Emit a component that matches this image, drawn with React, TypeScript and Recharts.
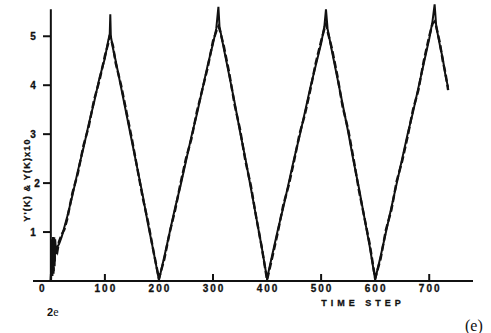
import React from "react";
import { LineChart, Line, XAxis, YAxis, ReferenceLine } from "recharts";

// time steps (denser near the noisy start and the peaks)
const timeSteps = [
  0, 2, 3, 4, 5, 6, 7, 8, 10, 12, 15, 20, 25, 30, 40, 50, 60, 70, 80, 90, 100,
  106, 109, 110, 111, 115, 120, 130, 140, 150, 160, 170, 180, 190, 200, 210,
  220, 230, 240, 250, 260, 270, 280, 290, 300, 306, 310, 312, 320, 330, 340,
  350, 360, 370, 380, 390, 400, 410, 420, 430, 440, 450, 460, 470, 480, 490,
  500, 506, 509, 512, 520, 530, 540, 550, 560, 570, 580, 590, 600, 610, 620,
  630, 640, 650, 660, 670, 680, 690, 700, 706, 710, 713, 720, 725, 730, 735,
];

// Y'(K)
const yPrime = [
  0, 0.85, 0.1, 0.9, 0.15, 0.8, 0.3, 0.85, 0.55, 0.7, 0.75, 0.9, 1.1, 1.3,
  1.75, 2.25, 2.7, 3.2, 3.65, 4.15, 4.55, 4.9, 5.05, 5.45, 5.0, 4.75, 4.5,
  3.95, 3.4, 2.85, 2.3, 1.75, 1.15, 0.6, 0.02, 0.5, 1.0, 1.5, 1.95, 2.45, 2.95,
  3.4, 3.9, 4.4, 4.85, 5.15, 5.6, 5.2, 4.75, 4.2, 3.65, 3.05, 2.5, 1.9, 1.3,
  0.7, 0.05, 0.55, 1.05, 1.5, 2.0, 2.5, 2.95, 3.45, 3.95, 4.4, 4.85, 5.2, 5.55,
  5.15, 4.7, 4.15, 3.6, 3.05, 2.45, 1.9, 1.3, 0.7, 0.03, 0.5, 1.0, 1.5, 2.0,
  2.5, 3.0, 3.45, 3.95, 4.45, 4.95, 5.3, 5.65, 5.2, 4.8, 4.55, 4.2, 3.95,
];

// Y(K) x 10
const yTimes10 = [
  0, 0.6, 0.3, 0.75, 0.2, 0.9, 0.4, 0.7, 0.65, 0.6, 0.8, 0.95, 1.05, 1.25,
  1.8, 2.2, 2.75, 3.15, 3.7, 4.1, 4.6, 4.85, 5.0, 5.0, 4.95, 4.8, 4.45, 4.0,
  3.45, 2.9, 2.3, 1.7, 1.2, 0.6, 0.05, 0.45, 1.0, 1.45, 2.0, 2.5, 2.9, 3.45,
  3.9, 4.35, 4.9, 5.1, 5.2, 5.15, 4.8, 4.25, 3.6, 3.1, 2.45, 1.95, 1.3, 0.7,
  0.02, 0.5, 1.0, 1.55, 1.95, 2.45, 3.0, 3.4, 3.9, 4.45, 4.9, 5.15, 5.25, 5.1,
  4.75, 4.2, 3.55, 3.1, 2.5, 1.85, 1.3, 0.75, 0.05, 0.45, 1.05, 1.45, 2.05,
  2.45, 2.95, 3.5, 3.9, 4.5, 5.0, 5.25, 5.3, 5.2, 4.85, 4.5, 4.25, 3.9,
];

const xTicks = [0, 100, 200, 300, 400, 500, 600, 700];
const yTicks = [1, 2, 3, 4, 5];

const data = timeSteps.map((t, i) => ({ t, a: yPrime[i], b: yTimes10[i] }));

const INK = "#111";
const FONT = "'Liberation Sans', Arial, sans-serif";

function XTick(props: any) {
  const { x, y, payload } = props;
  const v = payload.value;
  return (
    <g>
      {v !== 0 && <line x1={x} x2={x} y1={y - 7} y2={y} stroke={INK} strokeWidth={2} />}
      <text
        x={v === 0 ? x - 8 : x + 1}
        y={y + 11}
        textAnchor="middle"
        fontFamily={FONT}
        fontWeight="bold"
        fontSize={10}
        letterSpacing={2}
        stroke={INK}
        strokeWidth={0.3}
        fill={INK}
      >
        {v}
      </text>
    </g>
  );
}

function YTick(props: any) {
  const { x, y, payload } = props;
  return (
    <g>
      <line x1={x + 10} x2={x + 17} y1={y} y2={y} stroke={INK} strokeWidth={2} />
      <text
        x={payload.value === 2 ? x + 4 : x}
        y={y + 3.5}
        textAnchor="middle"
        fontFamily={FONT}
        fontWeight="bold"
        fontSize={10}
        stroke={INK}
        strokeWidth={0.3}
        fill={INK}
      >
        {payload.value}
      </text>
    </g>
  );
}

export default function App() {
  return (
    <div
      style={{
        position: "absolute",
        left: 0,
        top: 0,
        width: 491,
        height: 333,
        background: "#fff",
        overflow: "hidden",
      }}
    >
      <LineChart
        width={491}
        height={333}
        data={data}
        margin={{ top: 2, right: 18, bottom: 0, left: 0 }}
      >
        <XAxis
          dataKey="t"
          type="number"
          domain={[-33, 781]}
          ticks={xTicks}
          allowDataOverflow
          height={52}
          axisLine={{ stroke: INK, strokeWidth: 2 }}
          tickLine={false}
          tickSize={0}
          tickMargin={0}
          tick={<XTick />}
        />
        <YAxis
          type="number"
          domain={[0, 5.7]}
          ticks={yTicks}
          allowDataOverflow
          width={33}
          axisLine={false}
          tickLine={false}
          tickSize={0}
          tickMargin={0}
          tick={<YTick />}
        />
        <ReferenceLine
          segment={[
            { x: 0, y: 0 },
            { x: 0, y: 5.55 },
          ]}
          stroke={INK}
          strokeWidth={2}
        />
        <Line
          type="linear"
          dataKey="a"
          stroke={INK}
          strokeWidth={2}
          dot={false}
          isAnimationActive={false}
        />
        <Line
          type="linear"
          dataKey="b"
          stroke={INK}
          strokeWidth={2.4}
          strokeDasharray="7 3"
          dot={false}
          isAnimationActive={false}
        />
      </LineChart>
      <svg
        width={491}
        height={333}
        style={{ position: "absolute", left: 0, top: 0, pointerEvents: "none" }}
      >
        <text
          transform="translate(30,180) rotate(-90)"
          textAnchor="middle"
          fontFamily={FONT}
          fontWeight="bold"
          fontSize={9}
          letterSpacing={1.2}
          stroke={INK}
          strokeWidth={0.3}
          fill={INK}
        >
          Y'(K) &amp; Y(K)x10
        </text>
        <text
          x={363}
          y={306}
          textAnchor="middle"
          fontFamily={FONT}
          fontWeight="bold"
          fontSize={9}
          letterSpacing={4}
          stroke={INK}
          strokeWidth={0.3}
          fill={INK}
        >
          TIME STEP
        </text>
        <text x={47} y={316} fontSize={11} fill={INK}>
          <tspan fontFamily={FONT} fontWeight="bold">2</tspan>
          <tspan fontFamily="'Liberation Serif', serif" fontSize={12}>e</tspan>
        </text>
        <text x={465} y={331} fontFamily="'Liberation Serif', serif" fontSize={16} fill={INK}>
          (e)
        </text>
      </svg>
    </div>
  );
}
